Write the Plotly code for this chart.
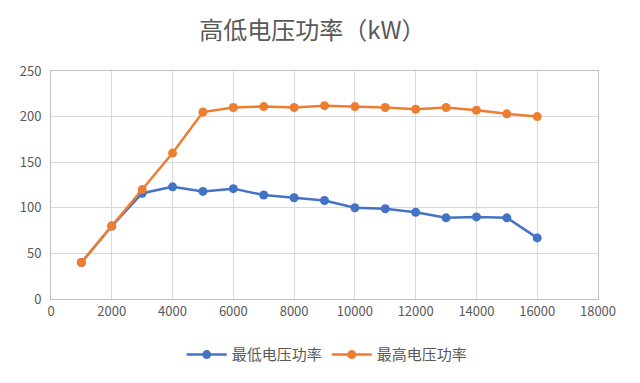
import plotly.graph_objects as go

rpm = [1000, 2000, 3000, 4000, 5000, 6000, 7000, 8000, 9000, 10000, 11000, 12000, 13000, 14000, 15000, 16000]
low_power = [40, 80, 116, 123, 118, 121, 114, 111, 108, 100, 99, 95, 89, 90, 89, 67]
high_power = [40, 80, 120, 160, 205, 210, 211, 210, 212, 211, 210, 208, 210, 207, 203, 200]
series_names = ["最低电压功率", "最高电压功率"]
title_text = "高低电压功率（kW）"

font_family = "Noto Sans CJK SC, Noto Sans, sans-serif"

fig = go.Figure()
fig.add_trace(go.Scatter(x=rpm, y=low_power, mode="lines+markers", name=series_names[0],
                         line=dict(color="#4472C4", width=2.5),
                         marker=dict(color="#4472C4", size=9)))
fig.add_trace(go.Scatter(x=rpm, y=high_power, mode="lines+markers", name=series_names[1],
                         line=dict(color="#ED7D31", width=2.5),
                         marker=dict(color="#ED7D31", size=9)))

fig.update_layout(
    width=640, height=383,
    margin=dict(l=51, r=42, t=71, b=84, autoexpand=False),
    paper_bgcolor="white", plot_bgcolor="white",
    title=dict(text=title_text, x=0.488, xanchor="center", y=0.92, yanchor="middle",
               font=dict(family=font_family, size=24, color="#595959")),
    font=dict(family=font_family, size=13, color="#595959"),
    showlegend=True,
    legend=dict(orientation="h", x=0.505, xanchor="center", y=-0.245, yanchor="middle",
                itemwidth=40, font=dict(size=15, color="#595959")),
)
fig.update_xaxes(range=[0, 18000], dtick=2000, tick0=0, tickformat="d", showgrid=True, gridcolor="#d9d9d9",
                 showline=True, linecolor="#bfbfbf", mirror=True, zeroline=False, automargin=False,
                 ticks="", tickfont=dict(size=13, color="#595959"))
fig.update_yaxes(range=[0, 250], dtick=50, showgrid=True, gridcolor="#d9d9d9",
                 showline=True, linecolor="#bfbfbf", mirror=True, zeroline=False, automargin=False,
                 ticks="", ticklabelstandoff=6, tickfont=dict(size=13, color="#595959"))

fig.write_html("out.html", config={"displayModeBar": False},
               post_script="document.body.style.margin='0';")
